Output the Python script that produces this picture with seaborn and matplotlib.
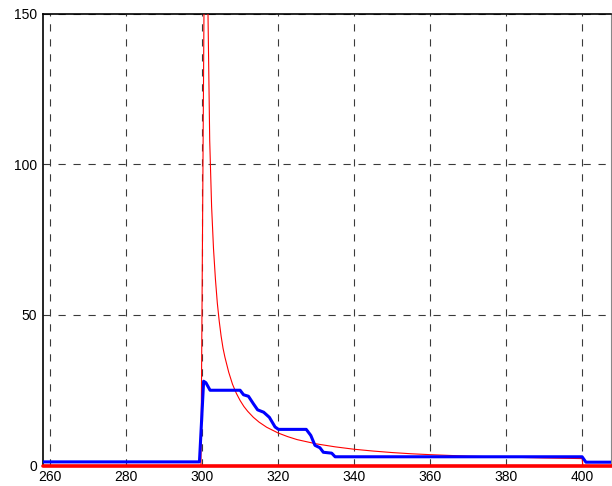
import matplotlib
matplotlib.use("Agg")
import matplotlib.pyplot as plt
import seaborn as sns
import pandas as pd

# Thin red decaying curve
red_x = [258, 299.7, 300.7, 301.55, 302, 302.5, 303, 303.5, 304, 304.5, 305, 305.5, 306, 307,
         308, 309, 310, 311, 312, 313.5, 315, 317, 320, 322.5, 325, 327.5, 330, 335, 340,
         345, 350, 355, 360, 370, 380, 390, 400, 400.2]
red_y = [0, 0, 190, 150, 108, 86, 72, 62, 54, 48, 43, 39, 36, 31,
         27, 24, 21.6, 19.6, 18, 16, 14.4, 12.7, 10.8, 9.6, 8.6, 7.9, 7.2, 6.2, 5.4,
         4.8, 4.3, 3.9, 3.6, 3.1, 2.8, 2.5, 2.3, 0]

# Blue step curve
blue_x = [258, 299.3, 300.4, 301.0, 302.1, 310.0, 310.9, 312.2, 313.5, 314.6, 316.2, 317.7,
          319.2, 320.1, 327.4, 328.6, 329.7, 331.0, 331.9, 334.1, 335.0, 400.0, 401.0, 408]
blue_y = [1.2, 1.2, 28, 27.5, 25, 25, 23.5, 23, 20.5, 18.5, 17.7, 16,
          12.8, 12, 12, 10, 6.7, 5.9, 4.4, 4.1, 2.9, 2.9, 1.1, 1.1]

# Thick red baseline
base_x = [258, 408]
base_y = [0, 0]

sns.set_style("white")
plt.rcParams['font.family'] = ['Liberation Sans', 'DejaVu Sans']

fig = plt.figure(figsize=(6.12, 4.86), dpi=100)
W, H = 612, 486
ax = fig.add_axes([42.5 / W, (H - 465.5) / H, (611 - 42.5) / W, (465.5 - 14) / H])

red_df = pd.DataFrame({"x": red_x, "y": red_y})
blue_df = pd.DataFrame({"x": blue_x, "y": blue_y})
base_df = pd.DataFrame({"x": base_x, "y": base_y})

sns.lineplot(data=red_df, x="x", y="y", ax=ax, color="#ff0000", lw=0.8,
             sort=False, estimator=None, zorder=3)
sns.lineplot(data=blue_df, x="x", y="y", ax=ax, color="#0000ff", lw=2.2,
             sort=False, estimator=None, zorder=4)
sns.lineplot(data=base_df, x="x", y="y", ax=ax, color="#ff0000", lw=2.6,
             sort=False, estimator=None, zorder=5, clip_on=False)

ax.set_xlim(258, 407.6)
ax.set_ylim(0, 150)
ax.set_xticks([260, 280, 300, 320, 340, 360, 380, 400])
ax.set_yticks([0, 50, 100, 150])
ax.set_xlabel("")
ax.set_ylabel("")
ax.grid(True, color="#3a3a3a", linestyle=(0, (6.5, 7)), linewidth=0.8)
ax.set_axisbelow(True)
for s in ["left", "top", "bottom"]:
    ax.spines[s].set_color("black")
    ax.spines[s].set_linewidth(1.2)
ax.spines["right"].set_color("#888888")
ax.spines["right"].set_linewidth(0.8)
ax.tick_params(axis="both", direction="in", length=4, width=0.8, labelsize=10,
               colors="black", pad=3)
ax.tick_params(axis="y", pad=4)

fig.savefig("out.png", dpi=100)
